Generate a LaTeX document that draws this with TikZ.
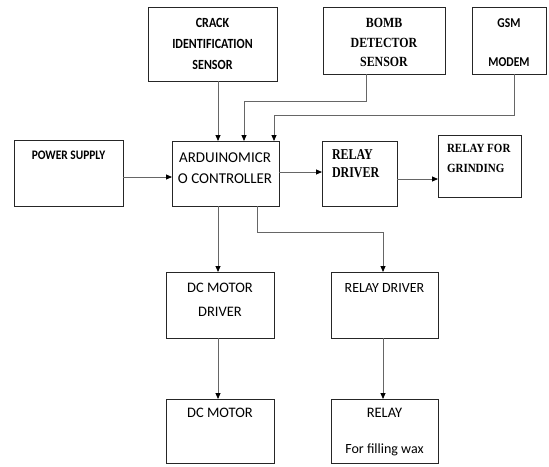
\documentclass[tikz,border=0pt]{standalone}
\usepackage{fontspec}
\setmainfont{Carlito}
\newfontfamily\tms{Liberation Serif}
\usetikzlibrary{arrows.meta}
\begin{document}
\begin{tikzpicture}[x=1pt,y=-1pt,
  box/.style={draw=black!85,line width=0.8pt,rectangle,inner sep=0pt,outer sep=0pt},
  lbl/.style={inner sep=0pt,outer sep=0pt,align=center},
  arr/.style={draw=black!60,line width=0.8pt,-{Triangle[length=6pt,width=5pt,color=black]}},
  calb/.style 2 args={font=\fontsize{#1}{#2}\selectfont\bfseries},
  calr/.style 2 args={font=\fontsize{#1}{#2}\selectfont},
  tim/.style 2 args={font=\tms\fontsize{#1}{#2}\selectfont\bfseries}]
\useasboundingbox (0,0) rectangle (549,466);
% boxes
\node[box,minimum width=129pt,minimum height=74pt] (crack) at (212.5,44) {};
\node[box,minimum width=122pt,minimum height=67pt] (bomb) at (384,40.5) {};
\node[box,minimum width=74pt,minimum height=67pt] (gsm) at (509,40.5) {};
\node[box,minimum width=109pt,minimum height=66pt] (power) at (68.5,173) {};
\node[box,minimum width=107pt,minimum height=65pt] (ard) at (225.5,173.5) {};
\node[box,minimum width=75pt,minimum height=65pt] (rdrv) at (359.5,173.5) {};
\node[box,minimum width=83pt,minimum height=62pt] (rgrind) at (479.5,166) {};
\node[box,minimum width=108pt,minimum height=66pt] (dcd) at (220,305) {};
\node[box,minimum width=107pt,minimum height=66pt] (rd2) at (384.5,305) {};
\node[box,minimum width=108pt,minimum height=64pt] (dcm) at (220,431) {};
\node[box,minimum width=107pt,minimum height=64pt] (rel) at (384.5,431) {};
% texts
\node[lbl,calb={14}{21},xscale=0.86] (tcrack) at (212.5,44) {CRACK\\IDENTIFICATION\\SENSOR};
\node[lbl,tim={14}{19.5},xscale=0.85] (tbomb) at (384,42.5) {BOMB\\DETECTOR\\SENSOR};
\node[lbl,calb={13.5}{16},xscale=0.86] (tgsm1) at (509,23) {GSM};
\node[lbl,calb={13.5}{16},xscale=0.86] (tgsm2) at (509,62) {MODEM};
\node[lbl,calb={13}{16},xscale=0.88] (tpower) at (68.5,155) {POWER SUPPLY};
\node[lbl,calr={15}{21}] (tard) at (225,168.5) {ARDUINOMICR\\O CONTROLLER};
\node[lbl,align=left,anchor=west,tim={15}{18},xscale=0.8] (trdrv) at (332,164) {RELAY\\DRIVER};
\node[lbl,align=left,anchor=west,tim={12.5}{20},xscale=0.88] (trgr) at (447,158) {RELAY FOR\\GRINDING};
\node[lbl,calr={14.5}{24}] (tdcd) at (220,300) {DC MOTOR\\DRIVER};
\node[lbl,calr={14}{24}] (trd2) at (384.5,288) {RELAY DRIVER};
\node[lbl,calr={14.5}{24}] (tdcm) at (220,413) {DC MOTOR};
\node[lbl,calr={14.5}{24}] (trel1) at (384.5,413) {RELAY};
\node[lbl,calr={14}{24}] (trel2) at (384.5,450) {For filling wax};
% connectors
\draw[arr] ([xshift=5.5pt]crack.south) -- ([xshift=-7.5pt]ard.north);
\draw[arr] ([xshift=-18pt]bomb.south) -- ++(0,27) -| ([xshift=18.5pt]ard.north);
\draw[arr] ([xshift=5pt]gsm.south) -- ++(0,41) -| ([xshift=48.5pt]ard.north);
\draw[arr] ([yshift=-4pt]power.east) -- ([yshift=-4pt]power.east -| ard.west);
\draw[arr] ([yshift=1.5pt]ard.east) -- ([yshift=1.5pt]rdrv.west);
\draw[arr] ([yshift=-5.5pt]rdrv.east) -- ([yshift=-5.5pt]rdrv.east -| rgrind.west);
\draw[arr] ([xshift=-7.5pt]ard.south) -- ([xshift=-2pt]dcd.north);
\draw[arr] ([xshift=31.5pt]ard.south) -- ++(0,26) -| ([xshift=-1.5pt]rd2.north);
\draw[arr] ([xshift=-2pt]dcd.south) -- ([xshift=-2pt]dcm.north);
\draw[arr] ([xshift=-1.5pt]rd2.south) -- ([xshift=-1.5pt]rel.north);
\end{tikzpicture}
\end{document}
